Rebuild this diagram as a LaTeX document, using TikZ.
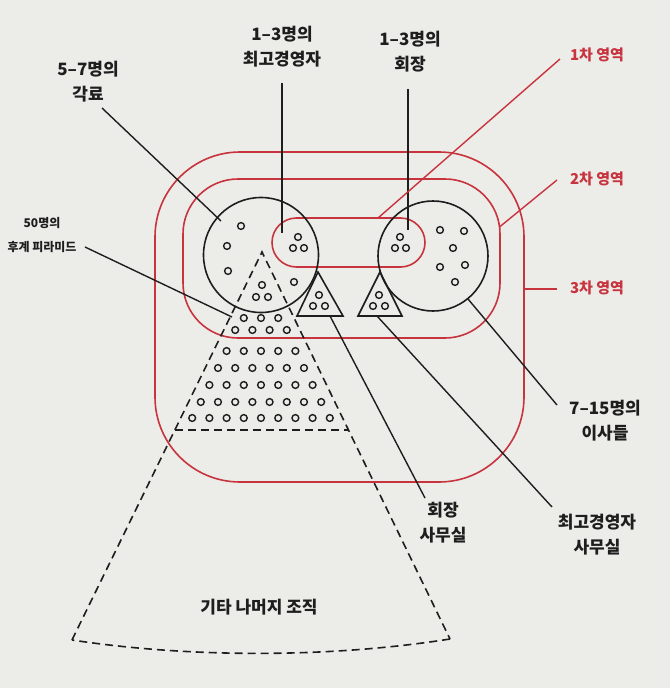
\documentclass[tikz,border=0pt]{standalone}
\usepackage{fontspec}
\newfontfamily\kr{Noto Sans CJK KR}
\definecolor{zred}{RGB}{200,52,62}
\definecolor{ink}{RGB}{30,30,30}
\definecolor{paper}{RGB}{236,236,233}
\begin{document}
\begin{tikzpicture}[x=1pt,y=-1pt,
 lbl/.style={font=\kr\bfseries\fontsize{17}{25}\selectfont, align=center, inner sep=0pt, text=ink},
 rlbl/.style={font=\kr\bfseries\fontsize{15}{20}\selectfont, inner sep=0pt, text=zred},
 slbl/.style={font=\kr\bfseries\fontsize{12}{24}\selectfont, align=center, inner sep=0pt, text=ink},
 blk/.style={draw=ink, line width=1.6pt},
 zone/.style={draw=zred, line width=1.6pt, inner sep=0pt},
 dot/.style={draw=ink, line width=1.4pt},
 dsh/.style={draw=ink, line width=1.6pt, dash pattern=on 8pt off 5pt},
 lead/.style={draw=ink, line width=1.4pt},
 rlead/.style={draw=zred, line width=1.4pt}]
\fill[paper] (0,0) rectangle (670,688);
\useasboundingbox (0,0) rectangle (670,688);

% zones
\node[zone, rounded corners=85pt, minimum width=369pt, minimum height=330pt] (z3) at (339.5,317) {};
\node[zone, rounded corners=55pt, minimum width=317pt, minimum height=159pt] (z2) at (341.5,258.5) {};
\node[zone, rounded corners=24.5pt, minimum width=153pt, minimum height=49pt] (z1) at (348.5,242.5) {};

% circles
\node[blk, circle, minimum size=115pt, inner sep=0pt] (cab) at (261,255) {};
\node[blk, circle, minimum size=110pt, inner sep=0pt] (dir) at (433,256) {};

% offices
\draw[blk] (318,272) -- (343,316) -- (297,316) -- cycle;
\draw[blk] (380,272) -- (402,316) -- (358,316) -- cycle;

% pyramid
\coordinate (apex) at (262,252);
\coordinate (bl) at (72,640);
\coordinate (br) at (450,639);
\draw[dsh] (bl) -- (apex) -- (br);
\draw[dsh] (br) .. controls (330,658) and (190,658) .. (bl);
\draw[dsh] (175,430) -- (348.5,430);

% dots
\foreach \p in {(241,226),(227,246),(228,271),(294,282),
  (440,230),(464,231),(453,248),(440,267),(465,265),(455,282),
  (298,237),(293,248),(304,248),(400,237),(395,248),(406,248),
  (319,295),(313,306),(325,306),(379,295),(373,306),(385,306),
  (262,285),(256,297),(268,297)}
  \draw[dot] \p circle (3.4);
\foreach \k/\y in {3/318,4/330,5/351,6/368,7/385,8/402,9/418}
  \foreach \i in {1,...,\k}
    \draw[dot] ({261+(\i-(\k+1)/2)*17.2},\y) circle (3.4);

% labels
\node[lbl] (tkak) at (88,81.5) {5–7명의\\각료};
\node[lbl] (tceo) at (282,46.5) {1–3명의\\최고경영자};
\node[lbl] (tchr) at (410,52) {1–3명의\\회장};
\node[rlbl] (tr1) at (597,55) {1차 영역};
\node[rlbl] (tr2) at (597,179) {2차 영역};
\node[rlbl] (tr3) at (597,288) {3차 영역};
\node[slbl] (tpyr) at (42,235) {50명의\\후계 피라미드};
\node[lbl] (tdir) at (605,421) {7–15명의\\이사들};
\node[lbl] (tcho) at (443,523) {회장\\사무실};
\node[lbl] (tceoo) at (597,535) {최고경영자\\사무실};
\node[lbl] (trest) at (259,607) {기타 나머지 조직};

% leader ends
\coordinate (a1) at (102,108);  \coordinate (a2) at (221,221);
\coordinate (b1) at (282,83);   \coordinate (b2) at (282,233);
\coordinate (c1) at (408,89);   \coordinate (c2) at (408,230);
\coordinate (d1) at (560,59);   \coordinate (d2) at (378,218);
\coordinate (e1) at (557,180);  \coordinate (e2) at (499.5,227);
\coordinate (f1) at (524,289);  \coordinate (f2) at (557,289);
\coordinate (g1) at (85,247);   \coordinate (g2) at (232,317);
\coordinate (h1) at (468,299);  \coordinate (h2) at (557,405);
\coordinate (i1) at (330,316);  \coordinate (i2) at (425,498);
\coordinate (j1) at (377,316);  \coordinate (j2) at (552,507);

\draw[lead] (a1) -- (a2);
\draw[lead] (b1) -- (b2);
\draw[lead] (c1) -- (c2);
\draw[rlead] (d1) -- (d2);
\draw[rlead] (e1) -- (e2);
\draw[rlead] (f1) -- (f2);
\draw[lead] (g1) -- (g2);
\draw[lead] (h1) -- (h2);
\draw[lead] (i1) -- (i2);
\draw[lead] (j1) -- (j2);
\end{tikzpicture}
\end{document}
